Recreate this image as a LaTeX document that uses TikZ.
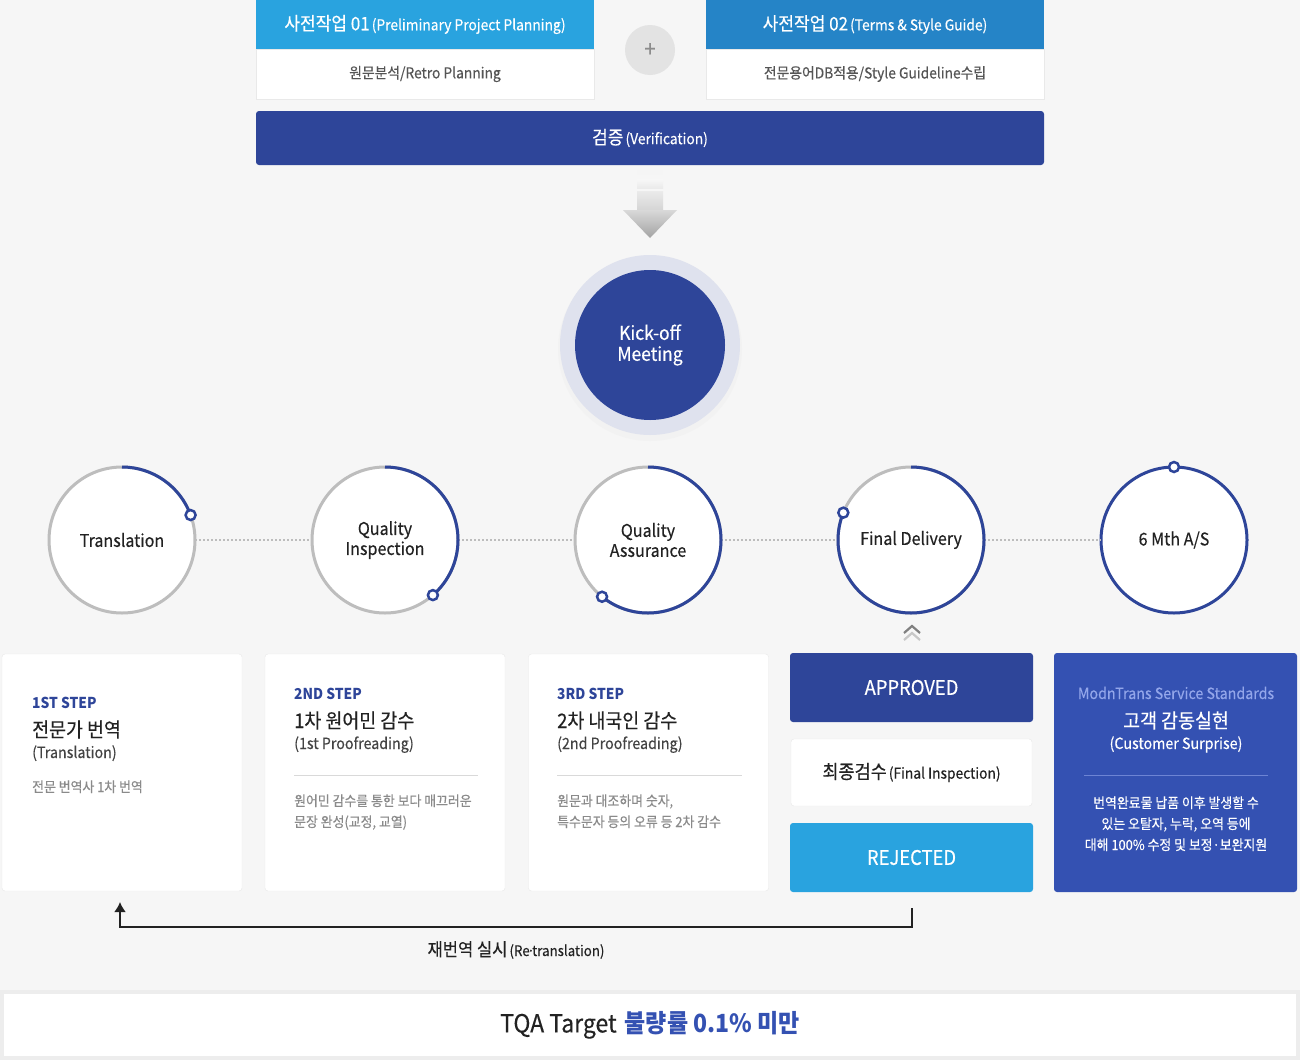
\documentclass[tikz,border=0pt]{standalone}
\usepackage{fontspec}
\setmainfont{Noto Sans CJK KR}[FakeStretch=0.92,FakeBold=0.35,BoldFeatures={FakeBold=0}]
\usetikzlibrary{positioning,arrows.meta}

\definecolor{navy}{HTML}{2E4599}
\definecolor{sky}{HTML}{29A3DF}
\definecolor{midblue}{HTML}{2584C7}
\definecolor{royal}{HTML}{3451B2}
\definecolor{lavender}{HTML}{93A6EA}
\definecolor{halo}{HTML}{DFE2EE}
\definecolor{bg}{HTML}{F6F6F6}
\definecolor{ringgray}{HTML}{BDBDBD}
\definecolor{txt}{HTML}{222222}
\definecolor{mid}{HTML}{555555}
\definecolor{soft}{HTML}{8A8A8A}
\definecolor{edge}{HTML}{E9E9E9}

\newcommand{\fs}[1]{\fontsize{#1}{#1}\selectfont}

\begin{document}
\begin{tikzpicture}[x=1pt,y=1pt,
  head/.style={rectangle,minimum width=338pt,minimum height=49pt,outer sep=0pt,text=white},
  panel/.style={rectangle,fill=white,draw=edge,minimum width=338pt,minimum height=50pt,outer sep=0pt,text=mid,font=\fs{15}},
  ring/.style={circle,fill=white,draw=ringgray,line width=3pt,minimum size=146pt,inner sep=0pt,outer sep=0pt,text=txt,align=center,font=\fontsize{17.5}{20}\selectfont},
  arcline/.style={draw=navy,line width=3pt},
  dot/.style={circle,draw=navy,fill=white,line width=2.5pt,minimum size=10pt,inner sep=0pt},
  link/.style={draw=ringgray,line width=1.2pt,dash pattern=on 1.5pt off 2.5pt},
  card/.style={rectangle,rounded corners=3pt,fill=white,draw=edge,minimum width=240pt,minimum height=237pt,outer sep=0pt},
  tag/.style={rectangle,rounded corners=3pt,minimum width=243pt,minimum height=69pt,outer sep=0pt,text=white,font=\fs{20}},
  stepno/.style={anchor=base west,inner sep=0pt,text=navy,font=\bfseries\fs{15}},
  steptitle/.style={anchor=base west,inner sep=0pt,text=txt,font=\fs{20}},
  stepsub/.style={anchor=base west,inner sep=0pt,text=txt!85,font=\fs{15.5}},
  stepdesc/.style={anchor=base west,inner sep=0pt,text=soft,font=\fs{14}},
  carebody/.style={anchor=base,inner sep=0pt,text=white,font=\fs{14}}]

  \fill[bg] (0,0) rectangle (1300,-1060);
  \useasboundingbox (0,0) rectangle (1300,-1060);

  % pre-work
  \node[head,fill=sky] (pre1) at (425,-24.5) {{\fs{18.5}사전작업 01} {\fs{15}(Preliminary Project Planning)}};
  \node[panel,below=0pt of pre1] (pre1b) {원문분석/Retro Planning};
  \node[circle,fill=black!11,minimum size=50pt,inner sep=0pt,text=black!45,font=\fs{22}] (plus) at (650,-50) {+};
  \node[head,fill=midblue] (pre2) at (875,-24.5) {{\fs{18.5}사전작업 02} {\fs{15}(Terms \& Style Guide)}};
  \node[panel,below=0pt of pre2] (pre2b) {전문용어DB적용/Style Guideline수립};
  \node[rectangle,rounded corners=3pt,fill=navy,minimum width=788pt,minimum height=54pt,text=white] (verify) at (650,-138) {{\fs{18.5}검증} {\fs{15}(Verification)}};

  % gray arrow
  \fill[black!4] (637,-170) rectangle (663,-175);
  \shade[top color=black!3,bottom color=black!8] (637,-179) rectangle (663,-188);
  \shade[top color=black!8,bottom color=black!17] (637,-191) rectangle (663,-211);
  \shade[top color=black!15,bottom color=black!36] (623,-210) -- (677,-210) -- (650,-238) -- cycle;

  % kick-off
  \fill[black!5] (650,-349) circle (92);
  \node[circle,fill=halo,minimum size=180pt,inner sep=0pt] (ring0) at (650,-345) {};
  \node[circle,fill=navy,minimum size=150pt,inner sep=0pt,text=white,align=center,font=\fontsize{19}{21}\selectfont] (kick) at (650,-345) {Kick-off\\Meeting};

  % process circles
  \node[ring] (trans) at (122,-540) {Translation};
  \node[ring,right=117pt of trans] (qi) {Quality\\Inspection};
  \node[ring,right=117pt of qi] (qa) {Quality\\Assurance};
  \node[ring,right=117pt of qa] (fd) {Final Delivery};
  \node[ring,right=117pt of fd,draw=navy] (as) {6 Mth A/S};

  \draw[link] (trans) -- (qi);
  \draw[link] (qi) -- (qa);
  \draw[link] (qa) -- (fd);
  \draw[link] (fd) -- (as);

  \draw[arcline] (trans.90) arc[start angle=90,end angle=20,radius=73];
  \draw[arcline] (qi.90) arc[start angle=90,end angle=-49,radius=73];
  \draw[arcline] (qa.90) arc[start angle=90,end angle=-129,radius=73];
  \draw[arcline] (fd.90) arc[start angle=90,end angle=-202,radius=73];
  \node[dot] at (trans.20) {};
  \node[dot] at (qi.-49) {};
  \node[dot] at (qa.-129) {};
  \node[dot] at (fd.158) {};
  \node[dot] at (as.90) {};

  % chevrons
  \draw[black!50,line width=2.2pt] (904,-633) -- (912,-626) -- (920,-633);
  \draw[black!22,line width=2.2pt] (904,-640) -- (912,-633) -- (920,-640);

  % step cards
  \node[card] (stepA) at (122,-772.5) {};
  \node[card] (stepB) at (385,-772.5) {};
  \node[card] (stepC) at (648.5,-772.5) {};

  \node[stepno] at (32,-708) {1ST STEP};
  \node[steptitle] at (32,-737) {전문가 번역};
  \node[stepsub] at (32,-758) {(Translation)};
  \node[stepdesc] at (32,-792) {전문 번역사 1차 번역};

  \node[stepno] at (294,-699) {2ND STEP};
  \node[steptitle] at (294,-728) {1차 원어민 감수};
  \node[stepsub] at (294,-749) {(1st Proofreading)};
  \draw[black!15,line width=1pt] (294,-775) -- (478,-775);
  \node[stepdesc] at (294,-806) {원어민 감수를 통한 보다 매끄러운};
  \node[stepdesc] at (294,-827) {문장 완성(교정, 교열)};

  \node[stepno] at (557,-699) {3RD STEP};
  \node[steptitle] at (557,-728) {2차 내국인 감수};
  \node[stepsub] at (557,-749) {(2nd Proofreading)};
  \draw[black!15,line width=1pt] (557,-775) -- (742,-775);
  \node[stepdesc] at (557,-806) {원문과 대조하며 숫자,};
  \node[stepdesc] at (557,-827) {특수문자 등의 오류 등 2차 감수};

  % result column
  \node[tag,fill=navy] (ok) at (911.5,-687.5) {APPROVED};
  \node[rectangle,rounded corners=3pt,fill=white,draw=edge,minimum width=241pt,minimum height=67pt,text=txt] (final) at (911.5,-772.5) {{\fs{19}최종검수} {\fs{15}(Final Inspection)}};
  \node[tag,fill=sky] (rej) at (911.5,-857.5) {REJECTED};

  % service standards
  \node[rectangle,rounded corners=3pt,fill=royal,minimum width=243pt,minimum height=239pt,outer sep=0pt] (care) at (1175.5,-772.5) {};
  \node[anchor=base,inner sep=0pt,text=lavender,font=\fs{15.5}] at (1176,-699) {ModnTrans Service Standards};
  \node[anchor=base,inner sep=0pt,text=white,font=\fs{20}] at (1176,-728) {고객 감동실현};
  \node[anchor=base,inner sep=0pt,text=white,font=\fs{15.5}] at (1176,-749) {(Customer Surprise)};
  \draw[draw=lavender!60!royal,line width=1pt] (1084,-775) -- (1268,-775);
  \node[carebody] at (1176,-808) {번역완료물 납품 이후 발생할 수};
  \node[carebody] at (1176,-829) {있는 오탈자, 누락, 오역 등에};
  \node[carebody] at (1176,-850) {대해 100\% 수정 및 보정·보완지원};

  % re-translation loop
  \draw[txt,line width=2pt,-{Latex[length=10pt,width=12pt]}] ([yshift=-16pt]rej.south) -- ++(0,-19) -| ([xshift=-2pt,yshift=-11pt]stepA.south);
  \node[anchor=base,inner sep=0pt,text=txt] (retr) at (516,-956) {{\fs{18}재번역 실시} {\fs{14.5}(Re\kern-2.5pt·\kern-2.5pttranslation)}};

  % target bar
  \fill[black!7] (0,-990) rectangle (1300,-1060);
  \node[rectangle,fill=white,minimum width=1292pt,minimum height=62pt] (tqa) at (650,-1025) {{\fs{25}\color{txt}TQA Target} \hspace{6pt}{\fs{25}\bfseries\color{royal}불량률 0.1\% 미만}};

\end{tikzpicture}
\end{document}
